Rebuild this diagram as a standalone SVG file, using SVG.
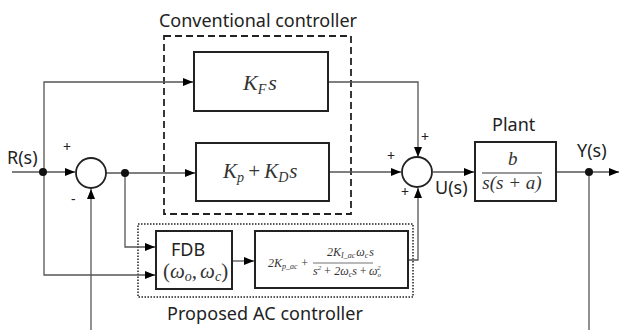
<svg xmlns="http://www.w3.org/2000/svg" width="619" height="330" viewBox="0 0 619 330">
<defs>
<marker id="ah" markerWidth="10" markerHeight="8" refX="10" refY="4" orient="auto" markerUnits="userSpaceOnUse">
<path d="M0,0 L10,4 L0,8 Z" fill="#000"/>
</marker>
<style>
.ln{fill:none;stroke:#555;stroke-width:1.3}
.bx{fill:#fff;stroke:#222;stroke-width:2}
.sj{fill:#fff;stroke:#222;stroke-width:1.8}
.lb{font-family:"Noto Sans","Open Sans",sans-serif;font-size:18px;fill:#222}
.sg{font-family:"Noto Sans",sans-serif;font-size:14px;fill:#222}
.m{font-family:"Liberation Serif","DejaVu Serif",serif;font-style:italic;fill:#333}
.mr{font-family:"Liberation Serif","DejaVu Serif",serif;fill:#333}
</style>
</defs>
<rect width="619" height="330" fill="#fff"/>

<g id="groups">
<rect x="164" y="36" width="187" height="178" fill="none" stroke="#222" stroke-width="1.8" stroke-dasharray="7,4"/>
<text class="lb" x="159" y="27" textLength="198">Conventional controller</text>
<rect x="138" y="224" width="275" height="73" fill="none" stroke="#222" stroke-width="1.5" stroke-dasharray="1.5,1.5"/>
<text class="lb" x="167" y="320" textLength="196">Proposed AC controller</text>
</g>

<g id="connectors">
<path class="ln" d="M12,172 H75" marker-end="url(#ah)"/>
<path class="ln" d="M44,172 V82 H193" marker-end="url(#ah)"/>
<path class="ln" d="M44,172 V275 H155" marker-end="url(#ah)"/>
<path class="ln" d="M106,173 H195" marker-end="url(#ah)"/>
<path class="ln" d="M125,173 V247 H155" marker-end="url(#ah)"/>
<path class="ln" d="M91,330 V189" marker-end="url(#ah)"/>
<path class="ln" d="M328,82 H418 V157" marker-end="url(#ah)"/>
<path class="ln" d="M329,172 H401" marker-end="url(#ah)"/>
<path class="ln" d="M232,261 H254" marker-end="url(#ah)"/>
<path class="ln" d="M408,260 H418 V188" marker-end="url(#ah)"/>
<path class="ln" d="M433,172 H474" marker-end="url(#ah)"/>
<path class="ln" d="M556,172 H619" marker-end="url(#ah)"/>
<path class="ln" d="M589,172 V330"/>
<circle cx="43" cy="172" r="4" fill="#111"/>
<circle cx="125" cy="173" r="4" fill="#111"/>
<circle cx="589" cy="172" r="4" fill="#111"/>
</g>

<g id="labels">
<text class="lb" x="7" y="164">R(s)</text>
<text class="lb" x="577" y="157">Y(s)</text>
<text class="lb" x="435" y="194">U(s)</text>
<text class="lb" x="492" y="131">Plant</text>
<text class="sg" x="63" y="152">+</text>
<text class="sg" x="71" y="204">-</text>
<text class="sg" x="387" y="161">+</text>
<text class="sg" x="421" y="142">+</text>
<text class="sg" x="401" y="197">+</text>
</g>

<g id="sum1"><circle class="sj" cx="91" cy="173" r="15"/></g>
<g id="sum2"><circle class="sj" cx="417" cy="172" r="15"/></g>

<g id="kf">
<rect class="bx" x="194" y="52" width="134" height="59"/>
<text class="m" x="243" y="90" font-size="22">K<tspan font-size="14" dy="4">F</tspan><tspan dy="-4" dx="2">s</tspan></text>
</g>

<g id="pd">
<rect class="bx" x="196" y="143" width="133" height="58"/>
<text class="m" x="223" y="178" font-size="21">K<tspan font-size="14" dy="4">p</tspan><tspan class="mr" dy="-4" dx="3">+</tspan><tspan dx="3">K</tspan><tspan font-size="14" dy="4">D</tspan><tspan dy="-4" dx="1">s</tspan></text>
</g>

<g id="fdb">
<rect class="bx" x="156" y="231" width="76" height="58"/>
<text class="lb" x="171" y="256" font-size="20">FDB</text>
<text class="mr" x="163" y="278" font-size="21">(<tspan class="m">ω</tspan><tspan class="m" font-size="14" dy="3">o</tspan><tspan dy="-3">,</tspan><tspan class="m" dx="3">ω</tspan><tspan class="m" font-size="14" dy="3">c</tspan><tspan dy="-3">)</tspan></text>
</g>

<g id="ac">
<rect class="bx" x="255" y="231" width="153" height="57"/>
<text class="m" x="268" y="267" font-size="12">2K<tspan font-size="8" dy="2">p_ac</tspan><tspan class="mr" dy="-2" dx="3">+</tspan></text>
<line x1="313" y1="263" x2="373" y2="263" stroke="#333" stroke-width="0.7"/>
<text class="m" x="327" y="256" font-size="12">2K<tspan font-size="8" dy="2">I_ac</tspan><tspan dy="-2" dx="1">ω</tspan><tspan font-size="8" dy="2">c</tspan><tspan dy="-2" dx="1">s</tspan></text>
<text class="m" x="313" y="275" font-size="12">s<tspan font-size="7" dy="-5">2</tspan><tspan class="mr" dy="5" dx="2">+ 2</tspan><tspan>ω</tspan><tspan font-size="8" dy="2">c</tspan><tspan dy="-2">s</tspan><tspan class="mr" dx="2">+</tspan><tspan dx="2">ω</tspan><tspan font-size="7" dy="2">o</tspan><tspan font-size="7" dy="-7" dx="-4">2</tspan></text>
</g>

<g id="plant">
<rect class="bx" x="475" y="142" width="81" height="59"/>
<text class="m" x="508" y="165" font-size="19">b</text>
<line x1="482" y1="173" x2="542" y2="173" stroke="#333" stroke-width="1"/>
<text class="m" x="512" y="189" font-size="19" text-anchor="middle">s<tspan class="mr">(</tspan>s<tspan class="mr"> + </tspan>a<tspan class="mr">)</tspan></text>
</g>
</svg>
